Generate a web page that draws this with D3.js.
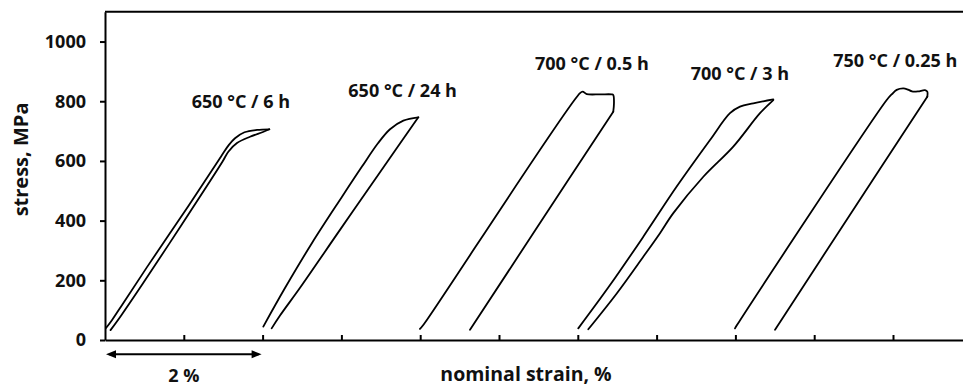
<!DOCTYPE html>
<html lang="en">
<head>
  <meta charset="UTF-8">
  <title>Stress - strain loops</title>
  <script src="https://d3js.org/d3.v7.min.js"></script>
  <style>
    body {
      margin: 0;
      background: #fff;
    }
    text {
      font-family: "Open Sans", sans-serif;
      font-weight: bold;
      fill: #111;
    }
    .loop {
      fill: none;
      stroke: #000;
      stroke-width: 1.8;
      stroke-linejoin: round;
      stroke-linecap: round;
    }
  </style>
</head>
<body>
  <script>
    // heat treatments (one loop each)
    const labels = ["650 °C / 6 h", "650 °C / 24 h", "700 °C / 0.5 h", "700 °C / 3 h", "750 °C / 0.25 h"];

    // loading branches [strain %, stress MPa]
    const load6h = [[0.013, 40], [0.09, 67], [0.225, 121], [0.535, 245], [1.05, 446], [1.475, 616],
      [1.57, 653], [1.65, 676], [1.77, 696], [1.93, 704], [2.085, 706]];
    const load24h = [[2.009, 45], [2.284, 174], [2.627, 325], [3.008, 480], [3.261, 581], [3.464, 659],
      [3.617, 706], [3.786, 735], [3.976, 746]];
    const load05h = [[3.997, 37], [4.039, 50], [6.028, 827], [6.062, 832], [6.113, 824], [6.282, 823],
      [6.430, 823], [6.450, 821], [6.459, 793], [6.450, 765]];
    const load3h = [[6.006, 39], [6.409, 184], [6.831, 346], [7.255, 514], [7.678, 670], [7.931, 760],
      [8.058, 782], [8.227, 793], [8.481, 806]];
    const load025h = [[7.995, 39], [8.020, 50], [9.920, 804], [9.987, 824], [10.047, 838], [10.131, 843],
      [10.190, 839], [10.241, 833], [10.317, 833], [10.406, 837], [10.435, 832], [10.435, 815]];

    // unloading branches
    const unload6h = [[2.085, 706], [2.005, 697], [1.840, 681], [1.675, 660], [1.565, 631], [1.49, 597],
      [0.975, 387], [0.47, 185], [0.21, 84], [0.07, 33]];
    const unload24h = [[3.976, 746], [3.490, 562], [2.982, 369], [2.475, 175], [2.221, 82], [2.115, 39]];
    const unload05h = [[6.450, 765], [5.520, 392], [4.632, 34]];
    const unload3h = [[8.481, 804], [8.312, 760], [7.973, 648], [7.593, 547], [7.212, 425], [7.043, 358],
      [6.831, 279], [6.494, 156], [6.133, 36]];
    const unload025h = [[10.435, 815], [9.467, 425], [8.503, 34]];

    // label anchors (strain %, stress MPa)
    const labelStrain = [1.100, 3.088, 5.457, 7.433, 9.242];
    const labelStress = [776, 815, 904, 871, 916];

    const yTicks = [0, 200, 400, 600, 800, 1000];
    const xTicks = [1, 2, 3, 4, 5, 6, 7, 8, 9, 10, 11];

    const width = 963;
    const height = 387;

    const svg = d3.select("body")
      .append("svg")
      .attr("width", width)
      .attr("height", height);

    const x = d3.scaleLinear().domain([0, 11]).range([105, 971.8]);
    const y = d3.scaleLinear().domain([0, 1100]).range([340, 11.7]);

    // top border of the plot area
    svg.append("line")
      .attr("x1", x(0)).attr("x2", x(11))
      .attr("y1", y(1100)).attr("y2", y(1100))
      .attr("stroke", "#000")
      .attr("stroke-width", 2);

    // y axis
    const yAxis = svg.append("g")
      .attr("transform", `translate(${x(0)},0)`)
      .call(d3.axisLeft(y).tickValues(yTicks).tickFormat(d3.format("d"))
        .tickSize(5).tickSizeOuter(0).tickPadding(14));
    yAxis.selectAll("text").style("font-size", "18px").attr("fill", "#111");

    // x axis, ticks pointing inwards, no labels
    svg.append("g")
      .attr("transform", `translate(0,${y(0)})`)
      .call(d3.axisBottom(x).tickValues(xTicks).tickSize(-5).tickSizeOuter(0).tickFormat(""));

    svg.selectAll(".domain, .tick line")
      .attr("stroke", "#000")
      .attr("stroke-width", 2);

    // loops
    const line = d3.line()
      .x(d => x(d[0]))
      .y(d => y(d[1]))
      .curve(d3.curveCatmullRom.alpha(0.5));

    const branches = [load6h, unload6h, load24h, unload24h, load05h, unload05h,
      load3h, unload3h, load025h, unload025h];

    svg.selectAll("path.loop")
      .data(branches)
      .enter()
      .append("path")
      .attr("class", "loop")
      .attr("d", line);

    // loop labels
    svg.selectAll("text.lab")
      .data(labels)
      .enter()
      .append("text")
      .attr("class", "lab")
      .attr("x", (d, i) => x(labelStrain[i]))
      .attr("y", (d, i) => y(labelStress[i]))
      .style("font-size", "18px")
      .text(d => d);

    // axis titles
    svg.append("text")
      .attr("transform", `translate(28,${y(605)}) rotate(-90)`)
      .attr("text-anchor", "middle")
      .style("font-size", "20px")
      .text("stress, MPa");

    svg.append("text")
      .attr("x", 526)
      .attr("y", 381)
      .attr("text-anchor", "middle")
      .style("font-size", "19.5px")
      .text("nominal strain, %");

    // 2 % scale bar
    const arrowY = 354.3;
    svg.append("line")
      .attr("x1", x(0) + 4).attr("x2", x(2) - 4)
      .attr("y1", arrowY).attr("y2", arrowY)
      .attr("stroke", "#000")
      .attr("stroke-width", 2);

    svg.append("path")
      .attr("d", `M${x(0) + 1},${arrowY} l10,-4 l0,8 Z`)
      .attr("fill", "#000");
    svg.append("path")
      .attr("d", `M${x(2) - 1},${arrowY} l-10,-4 l0,8 Z`)
      .attr("fill", "#000");

    svg.append("text")
      .attr("x", x(1))
      .attr("y", 382)
      .attr("text-anchor", "middle")
      .style("font-size", "18px")
      .text("2 %");
  </script>
</body>
</html>
